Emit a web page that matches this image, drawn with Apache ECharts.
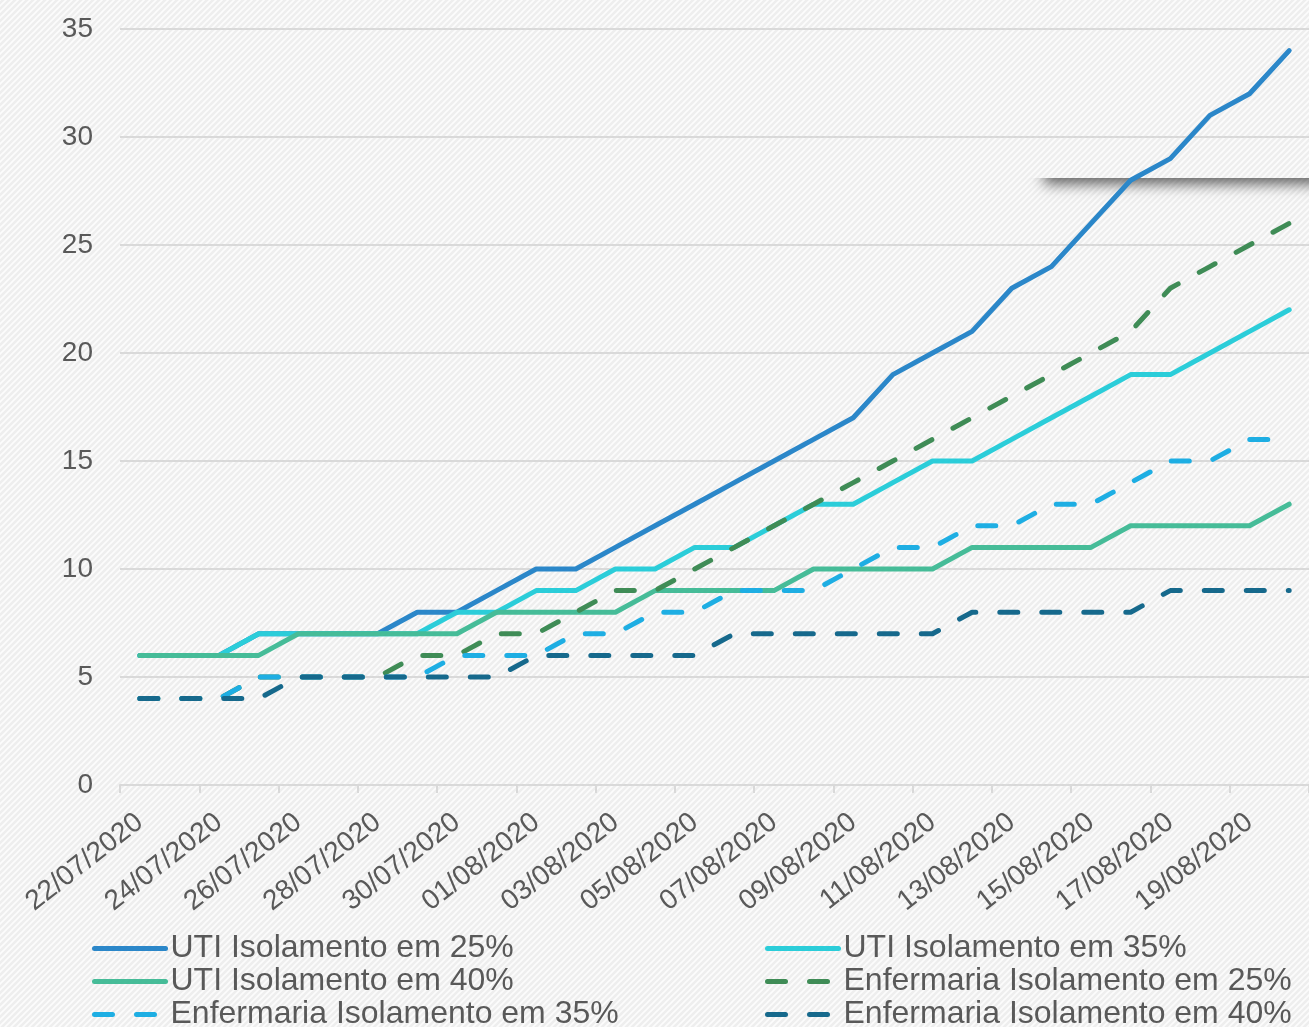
<!DOCTYPE html>
<html lang="pt-BR">
<head>
<meta charset="utf-8">
<title>Projeção de leitos - UTI e Enfermaria</title>
<script src="https://cdn.jsdelivr.net/npm/echarts@6/dist/echarts.min.js"></script>
<style>
  html, body { margin: 0; padding: 0; background: #f3f3f3; }
  #chart { width: 1309px; height: 1027px; }
</style>
</head>
<body>
<div id="chart"></div>
<script>
// Dias da projeção
const dates = [
  '22/07/2020', '23/07/2020', '24/07/2020', '25/07/2020', '26/07/2020',
  '27/07/2020', '28/07/2020', '29/07/2020', '30/07/2020', '31/07/2020',
  '01/08/2020', '02/08/2020', '03/08/2020', '04/08/2020', '05/08/2020',
  '06/08/2020', '07/08/2020', '08/08/2020', '09/08/2020', '10/08/2020',
  '11/08/2020', '12/08/2020', '13/08/2020', '14/08/2020', '15/08/2020',
  '16/08/2020', '17/08/2020', '18/08/2020', '19/08/2020', '20/08/2020'
];

// Leitos necessários por cenário de isolamento
const utiIso25 = [6, 6, 6, 7, 7, 7, 7, 8, 8, 9, 10, 10, 11, 12, 13, 14, 15, 16, 17, 19, 20, 21, 23, 24, 26, 28, 29, 31, 32, 34];
const utiIso35 = [6, 6, 6, 7, 7, 7, 7, 7, 8, 8, 9, 9, 10, 10, 11, 11, 12, 13, 13, 14, 15, 15, 16, 17, 18, 19, 19, 20, 21, 22];
const utiIso40 = [6, 6, 6, 6, 7, 7, 7, 7, 7, 8, 8, 8, 8, 9, 9, 9, 9, 10, 10, 10, 10, 11, 11, 11, 11, 12, 12, 12, 12, 13];
const enfIso25 = [4, 4, 4, 5, 5, 5, 5, 6, 6, 7, 7, 8, 9, 9, 10, 11, 12, 13, 14, 15, 16, 17, 18, 19, 20, 21, 23, 24, 25, 26];
const enfIso35 = [4, 4, 4, 5, 5, 5, 5, 5, 6, 6, 6, 7, 7, 8, 8, 9, 9, 9, 10, 11, 11, 12, 12, 13, 13, 14, 15, 15, 16, 16];
const enfIso40 = [4, 4, 4, 4, 5, 5, 5, 5, 5, 5, 6, 6, 6, 6, 6, 7, 7, 7, 7, 7, 7, 8, 8, 8, 8, 8, 9, 9, 9, 9];

// Eixo vertical
const yTicks = [0, 5, 10, 15, 20, 25, 30, 35];

const FONT = "'Liberation Sans', Arial, Helvetica, sans-serif";
const TEXT = '#595959';
const GRID = '#d9d9d9';
const DASH = [18, 24];

const seriesDefs = [
  { name: 'UTI Isolamento em 25%', data: utiIso25, color: '#2b87c9', dashed: false },
  { name: 'UTI Isolamento em 35%', data: utiIso35, color: '#2bcdd9', dashed: false },
  { name: 'UTI Isolamento em 40%', data: utiIso40, color: '#46bc98', dashed: false },
  { name: 'Enfermaria Isolamento em 25%', data: enfIso25, color: '#3f8c56', dashed: true },
  { name: 'Enfermaria Isolamento em 35%', data: enfIso35, color: '#1eaee3', dashed: true },
  { name: 'Enfermaria Isolamento em 40%', data: enfIso40, color: '#16698c', dashed: true }
];

// Textura listrada do fundo (listras finas em diagonal ascendente)
function stripeTile() {
  const p = 6;
  const c = document.createElement('canvas');
  c.width = p; c.height = p;
  const g = c.getContext('2d');
  g.fillStyle = '#eeeeee';
  g.fillRect(0, 0, p, p);
  g.strokeStyle = '#fcfcfc';
  g.lineWidth = 1.6;
  g.beginPath();
  g.moveTo(0, p); g.lineTo(p, 0);
  g.moveTo(-p, p); g.lineTo(p, -p);
  g.moveTo(0, 2 * p); g.lineTo(2 * p, 0);
  g.stroke();
  return c;
}

// Sombra suave projetada sob a borda de uma caixa à direita
function shadowStrip(w, h, edgeX) {
  const c = document.createElement('canvas');
  c.width = w; c.height = h;
  const g = c.getContext('2d');
  g.shadowColor = 'rgba(0,0,0,0.6)';
  g.shadowBlur = 13;
  g.shadowOffsetX = 0;
  g.shadowOffsetY = 2000 + 6;
  g.fillStyle = '#000';
  g.fillRect(edgeX, -2000 - 200, w + 200, 200);
  return c;
}

const legendBase = {
  orient: 'vertical',
  top: 932,
  height: 140,
  padding: 0,
  itemWidth: 71,
  itemHeight: 14,
  itemGap: 0,
  selectedMode: false,
  itemStyle: { color: 'rgba(0,0,0,0)', borderColor: 'rgba(0,0,0,0)', borderWidth: 0, opacity: 0 },
  lineStyle: { width: 5, cap: 'round', type: 'inherit' },
  textStyle: { fontFamily: FONT, fontSize: 32, color: TEXT, lineHeight: 33 }
};

const chart = echarts.init(document.getElementById('chart'), null, { renderer: 'canvas' });

chart.setOption({
  backgroundColor: 'transparent',
  animation: false,
  grid: { left: 120, right: 0, top: 29, bottom: 242, containLabel: false },
  xAxis: {
    type: 'category',
    data: dates,
    boundaryGap: true,
    axisLine: { show: true, lineStyle: { color: GRID, width: 2 } },
    axisTick: { show: true, interval: 1, length: 8, lineStyle: { color: GRID, width: 2 } },
    axisLabel: {
      interval: 1,
      rotate: 38,
      margin: 34,
      fontFamily: FONT,
      fontSize: 28,
      color: TEXT
    },
    splitLine: { show: false }
  },
  yAxis: {
    type: 'value',
    min: yTicks[0],
    max: yTicks[yTicks.length - 1],
    interval: yTicks[1] - yTicks[0],
    axisLine: { show: false },
    axisTick: { show: false },
    axisLabel: { margin: 27, fontFamily: FONT, fontSize: 28, color: TEXT },
    splitLine: { show: true, lineStyle: { color: GRID, width: 2 } }
  },
  legend: [
    Object.assign({}, legendBase, { left: 92, data: [seriesDefs[0].name, seriesDefs[2].name, seriesDefs[4].name] }),
    Object.assign({}, legendBase, { left: 765, data: [seriesDefs[1].name, seriesDefs[3].name, seriesDefs[5].name] })
  ],
  graphic: [
    {
      // fundo listrado
      type: 'rect',
      z: -10,
      silent: true,
      shape: { x: 0, y: 0, width: 1309, height: 1027 },
      style: { fill: { image: stripeTile(), repeat: 'repeat' } }
    },
    {
      type: 'image',
      z: -5,
      silent: true,
      style: { image: shadowStrip(320, 36, 44), x: 1000, y: 178, width: 320, height: 36 }
    }
  ],
  series: seriesDefs.map(function (s, i) {
    return {
      name: s.name,
      type: 'line',
      data: s.data,
      z: 3 + i,
      symbol: 'none',
      smooth: false,
      color: s.color,
      lineStyle: {
        color: s.color,
        width: 5,
        type: s.dashed ? DASH : 'solid',
        cap: 'round',
        join: 'round'
      },
      emphasis: { disabled: true }
    };
  })
});
</script>
</body>
</html>
